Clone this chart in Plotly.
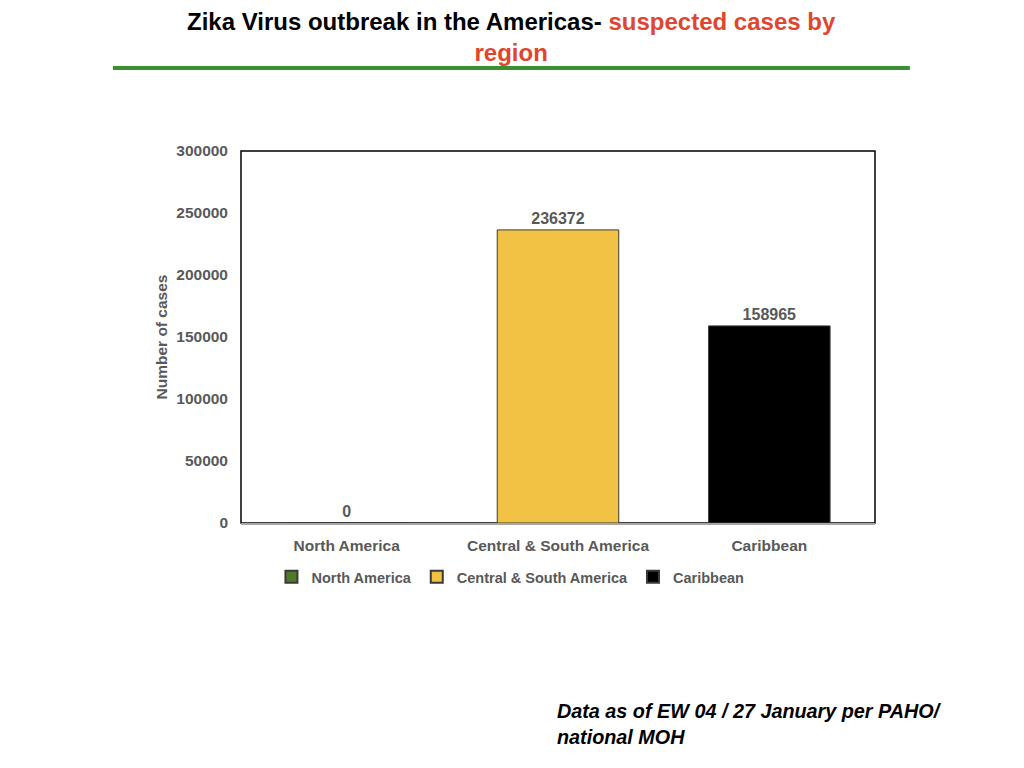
import plotly.graph_objects as go

categories = ["North America", "Central & South America", "Caribbean"]
cases = [0, 236372, 158965]
colors = ["#4f7a28", "#f2c244", "#000000"]
y_ticks = [0, 50000, 100000, 150000, 200000, 250000, 300000]

FONT = "Liberation Sans, Arial, sans-serif"
GREY = "#595959"

fig = go.Figure()
for cat, val, col in zip(categories, cases, colors):
    fig.add_trace(go.Bar(
        x=[cat], y=[val], name="<b>%s</b>" % cat,
        marker=dict(color=col, line=dict(color="#3a3a3a", width=1)),
        width=0.575,
        texttemplate="<b>%{y:.0f}</b>", textposition="outside", cliponaxis=False,
        textfont=dict(family=FONT, size=16, color=GREY),
    ))

fig.update_layout(
    width=1024, height=768,
    paper_bgcolor="white", plot_bgcolor="white",
    margin=dict(l=233, r=157, t=143, b=253),
    barmode="overlay",
    showlegend=True,
    font=dict(family=FONT, size=14, color=GREY),
    legend=dict(orientation="h", x=0.425, xanchor="center", y=-0.145, yanchor="middle",
                font=dict(family=FONT, size=14.5, color=GREY),
                traceorder="normal", itemsizing="constant", itemwidth=30),
    shapes=[
        dict(type="rect", xref="paper", yref="paper", x0=0, x1=1, y0=0, y1=1,
             line=dict(color="#000000", width=1.5), layer="below"),
        dict(type="line", xref="paper", yref="paper", x0=-0.202, x1=1.055, y0=1.223, y1=1.223,
             line=dict(color="#3a8f2e", width=4)),
    ],
    annotations=[
        dict(xref="paper", yref="paper", x=0.4274, y=1.306, xanchor="center", yanchor="middle",
             showarrow=False, align="center",
             text="<b>Zika Virus outbreak in the Americas- <span style='color:#e0452e'>suspected cases by</span></b><br><b><span style='color:#e0452e'>region</span></b>",
             font=dict(family=FONT, size=24, color="#000000")),
        dict(xref="paper", yref="paper", x=0.495, y=-0.540, xanchor="left", yanchor="middle",
             showarrow=False, align="left",
             text="<b><i>Data as of EW 04 / 27 January per PAHO/</i></b><br><b><i>national MOH</i></b>",
             font=dict(family=FONT, size=19.8, color="#000000")),
    ],
)
fig.update_xaxes(showline=True, linecolor="#a6a6a6", linewidth=2, ticks="",
                 ticklabelstandoff=7,
                 tickvals=categories, ticktext=["<b>%s</b>" % c for c in categories],
                 tickfont=dict(family=FONT, size=15.5, color=GREY), showgrid=False)
fig.update_yaxes(range=[0, 300000], tickvals=y_ticks, ticktext=["<b>%d</b>" % t for t in y_ticks],
                 showgrid=False, zeroline=False, showline=False, ticks="",
                 ticklabelstandoff=12,
                 tickfont=dict(family=FONT, size=15.5, color=GREY),
                 title=dict(text="<b>Number of cases</b>", font=dict(family=FONT, size=15.5, color=GREY),
                            standoff=4))
fig.write_html("out.html")
